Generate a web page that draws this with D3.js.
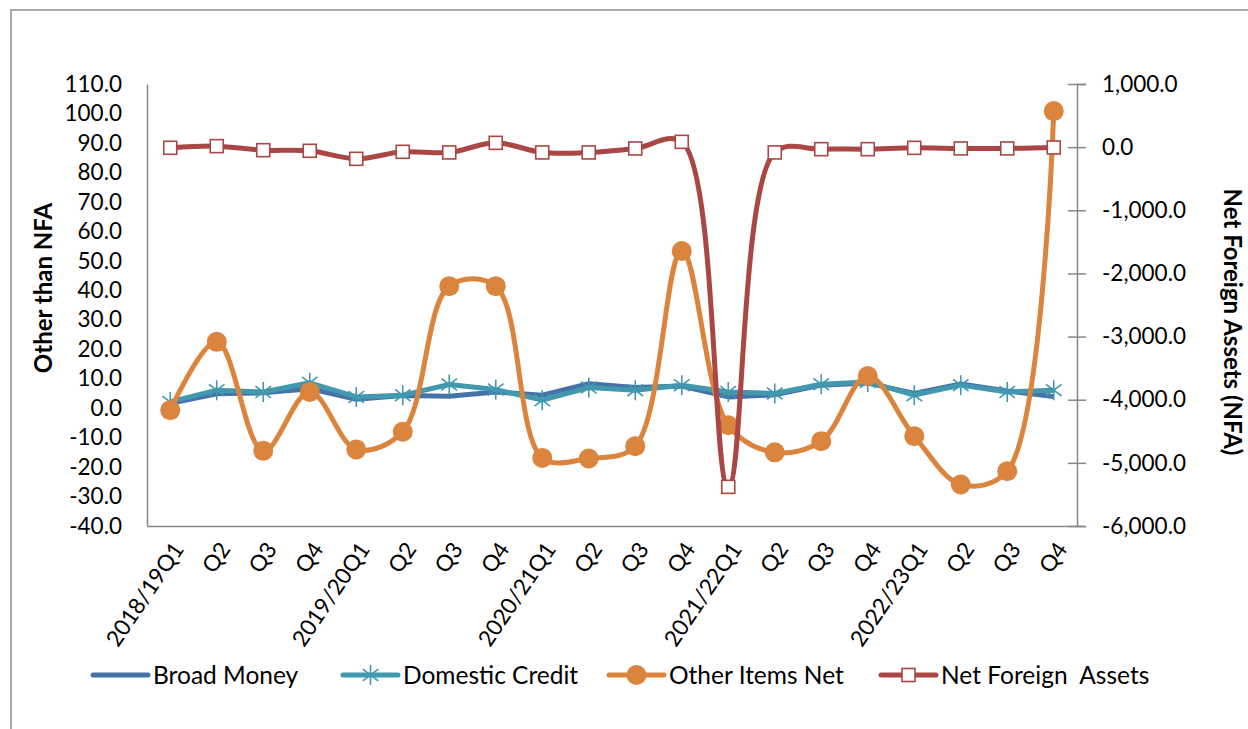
<!DOCTYPE html>
<html>
<head>
<meta charset="utf-8">
<script src="https://cdn.jsdelivr.net/npm/d3@7"></script>
<style>
  html, body { margin: 0; padding: 0; background: #fff; }
  svg { display: block; font-family: Lato, "Liberation Sans", sans-serif; }
</style>
</head>
<body>
<svg id="chart" width="1248" height="729"></svg>
<script>
// Quarter labels along the horizontal axis
const categories = ["2018/19Q1", "Q2", "Q3", "Q4",
                    "2019/20Q1", "Q2", "Q3", "Q4",
                    "2020/21Q1", "Q2", "Q3", "Q4",
                    "2021/22Q1", "Q2", "Q3", "Q4",
                    "2022/23Q1", "Q2", "Q3", "Q4"];

// Growth series on the left axis
const broadMoney     = [1.6, 4.9, 5.2, 6.6, 3.0, 4.3, 4.0, 5.5, 4.4, 8.3, 7.0, 7.5, 3.8, 4.5, 7.8, 8.5, 5.0, 8.2, 5.8, 3.9];
const domesticCredit = [2.1, 6.1, 5.5, 8.6, 3.8, 4.4, 8.0, 6.3, 2.7, 7.0, 6.1, 7.8, 5.5, 5.0, 8.1, 8.9, 4.4, 7.8, 5.5, 6.1];
const otherItemsNet  = [-0.7, 22.5, -14.5, 5.5, -14.0, -8.0, 41.4, 41.4, -16.9, -17.1, -12.9, 53.3, -5.8, -15.0, -11.2, 10.9, -9.5, -25.9, -21.4, 100.8];

// Net foreign assets on the right axis
const netForeignAssets = [-10, 16, -48, -58, -185, -74, -84, 68, -84, -84, -21, 84, -5380, -84, -32, -32, -11, -21, -21, -5];

// Axis ticks
const leftTicks  = [-40, -30, -20, -10, 0, 10, 20, 30, 40, 50, 60, 70, 80, 90, 100, 110];
const rightTicks = [-6000, -5000, -4000, -3000, -2000, -1000, 0, 1000];

const C = { blue: "#4572A7", teal: "#4198AF", orange: "#DB843D", red: "#AA4643", axis: "#868686" };

// Plain hyphen for negative numbers
const locale = d3.formatLocale({ decimal: ".", thousands: ",", grouping: [3], currency: ["", ""], minus: "-" });
const fmtLeft = locale.format(".1f");
const fmtRight = locale.format(",.1f");

const svg = d3.select("#chart");
const plot = { left: 147, right: 1077, top: 84, bottom: 526 };

// Outer chart frame
svg.append("path")
  .attr("d", "M11,729 L11,10 L1248,10")
  .attr("fill", "none").attr("stroke", "#8c8c8c").attr("stroke-width", 1.5);

const idx = categories.map((_, i) => i);
const x = d3.scalePoint().domain(idx).range([plot.left, plot.right]).padding(0.5);
const yL = d3.scaleLinear().domain([-40, 110]).range([plot.bottom, plot.top]);
const yR = d3.scaleLinear().domain([-6000, 1000]).range([plot.bottom, plot.top]);

// Left axis: line plus labels
const leftAxis = svg.append("g").attr("transform", `translate(${plot.left},0)`)
  .call(d3.axisLeft(yL).tickValues(leftTicks).tickFormat(fmtLeft).tickSize(0).tickPadding(25));
leftAxis.select(".domain").attr("stroke", C.axis).attr("stroke-width", 1.5);
leftAxis.selectAll("text").attr("font-size", 22.5).attr("fill", "#000").attr("font-family", "Lato");

// Right axis with crossing tick marks
const rightAxis = svg.append("g").attr("transform", `translate(${plot.right},0)`)
  .call(d3.axisRight(yR).tickValues(rightTicks).tickFormat(fmtRight).tickSize(9).tickPadding(16));
rightAxis.select(".domain").attr("stroke", C.axis).attr("stroke-width", 1.5);
rightAxis.selectAll(".tick line").attr("stroke", C.axis).attr("stroke-width", 1.5).attr("x1", -9);
rightAxis.selectAll("text").attr("font-size", 22.5).attr("fill", "#000").attr("font-family", "Lato");

// Bottom axis with rotated quarter labels
const bottomAxis = svg.append("g").attr("transform", `translate(0,${plot.bottom})`)
  .call(d3.axisBottom(x).tickSize(0).tickFormat(i => categories[i]));
bottomAxis.select(".domain").attr("stroke", C.axis).attr("stroke-width", 1.5);
bottomAxis.selectAll("text")
  .attr("font-size", 22.5).attr("fill", "#000").attr("font-family", "Lato")
  .attr("text-anchor", "end")
  .attr("dy", "0.35em")
  .attr("transform", "translate(5,17) rotate(-56)");

// Axis titles
svg.append("text")
  .attr("transform", "translate(52,288) rotate(-90)")
  .attr("text-anchor", "middle").attr("font-size", 24).attr("font-weight", "bold")
  .text("Other than NFA");
svg.append("text")
  .attr("transform", "translate(1224,322) rotate(90)")
  .attr("text-anchor", "middle").attr("font-size", 24).attr("font-weight", "bold")
  .text("Net Foreign Assets (NFA)");

const straight = d3.line().x((d, i) => x(i)).curve(d3.curveLinear);
const smooth = d3.line().x((d, i) => x(i)).curve(d3.curveCatmullRom.alpha(0.5));

const starPath = r => {
  const k = r * 0.78;
  return `M0,${-r}L0,${r}M${-k},${-k * 0.75}L${k},${k * 0.75}M${-k},${k * 0.75}L${k},${-k * 0.75}`;
};

// Broad Money
svg.append("path").datum(broadMoney)
  .attr("d", straight.y(d => yL(d)))
  .attr("fill", "none").attr("stroke", C.blue).attr("stroke-width", 5).attr("stroke-linejoin", "round");

// Domestic Credit
svg.append("path").datum(domesticCredit)
  .attr("d", straight.y(d => yL(d)))
  .attr("fill", "none").attr("stroke", C.teal).attr("stroke-width", 5).attr("stroke-linejoin", "round");
svg.append("g").selectAll("path").data(domesticCredit).join("path")
  .attr("transform", (d, i) => `translate(${x(i)},${yL(d)})`)
  .attr("d", starPath(10))
  .attr("fill", "none").attr("stroke", C.teal).attr("stroke-width", 1.6);

// Other Items Net
svg.append("path").datum(otherItemsNet)
  .attr("d", smooth.y(d => yL(d)))
  .attr("fill", "none").attr("stroke", C.orange).attr("stroke-width", 5);
svg.append("g").selectAll("circle").data(otherItemsNet).join("circle")
  .attr("cx", (d, i) => x(i)).attr("cy", d => yL(d)).attr("r", 10)
  .attr("fill", C.orange);

// Net Foreign Assets
svg.append("path").datum(netForeignAssets)
  .attr("d", smooth.y(d => yR(d)))
  .attr("fill", "none").attr("stroke", C.red).attr("stroke-width", 5);
svg.append("g").selectAll("rect").data(netForeignAssets).join("rect")
  .attr("x", (d, i) => x(i) - 6.5).attr("y", d => yR(d) - 6.5)
  .attr("width", 13).attr("height", 13)
  .attr("fill", "#fff").attr("stroke", C.red).attr("stroke-width", 1.6);

// Legend
const legendItems = [
  { name: "Broad Money", color: C.blue, marker: "none", x: 93 },
  { name: "Domestic Credit", color: C.teal, marker: "star", x: 343 },
  { name: "Other Items Net", color: C.orange, marker: "circle", x: 609 },
  { name: "Net Foreign  Assets", color: C.red, marker: "square", x: 881 }
];
const ly = 675;
const lg = svg.append("g").selectAll("g").data(legendItems).join("g")
  .attr("transform", d => `translate(${d.x},${ly})`);
lg.append("line").attr("x1", 0).attr("x2", 55).attr("y1", 0).attr("y2", 0)
  .attr("stroke", d => d.color).attr("stroke-width", 5).attr("stroke-linecap", "round");
lg.filter(d => d.marker === "star").append("path")
  .attr("transform", "translate(27.5,0)").attr("d", starPath(10))
  .attr("fill", "none").attr("stroke", C.teal).attr("stroke-width", 1.6);
lg.filter(d => d.marker === "circle").append("circle")
  .attr("cx", 27.5).attr("cy", 0).attr("r", 10).attr("fill", C.orange);
lg.filter(d => d.marker === "square").append("rect")
  .attr("x", 21).attr("y", -6.5).attr("width", 13).attr("height", 13)
  .attr("fill", "#fff").attr("stroke", C.red).attr("stroke-width", 1.6);
lg.append("text").attr("x", 60).attr("y", 0).attr("dy", "0.35em")
  .attr("font-size", 24.5).attr("fill", "#000")
  .attr("xml:space", "preserve").style("white-space", "pre")
  .text(d => d.name);
</script>
</body>
</html>
